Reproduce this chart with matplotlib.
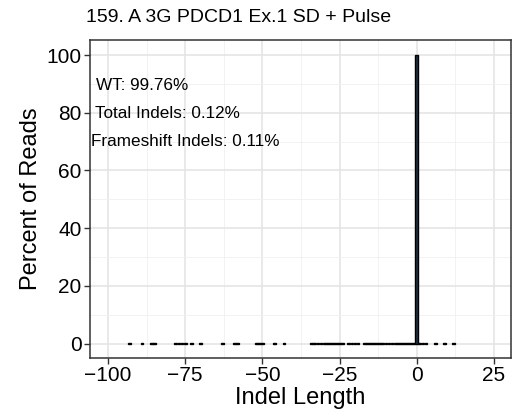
import matplotlib
matplotlib.use("Agg")
import matplotlib.pyplot as plt
from matplotlib.ticker import MultipleLocator

plt.rcParams['font.family'] = ['Liberation Sans', 'DejaVu Sans']

# Data
indel_lengths = [-93, -89, -86, -85, -78, -77, -76, -75, -73, -70, -63, -59, -58,
                 -52, -51, -50, -46, -43,
                 -34, -33, -32, -31, -30, -29, -28, -27, -26, -25, -24,
                 -22, -21, -20, -19, -17, -16, -15, -14, -13, -12, -11,
                 -10, -9, -8, -7, -6, -5, -4, -3, -2, -1, 0, 1, 2, 3, 6, 9, 12]
percent_reads = [0.05] * len(indel_lengths)
percent_reads[indel_lengths.index(0)] = 99.88

title = "159. A 3G PDCD1 Ex.1 SD + Pulse"
annotations = ["WT: 99.76%", "Total Indels: 0.12%", "Frameshift Indels: 0.11%"]
x_ticks = [-100, -75, -50, -25, 0, 25]
y_ticks = [0, 20, 40, 60, 80, 100]

fig = plt.figure(figsize=(5.19, 4.2), dpi=100)
ax = fig.add_axes([90/519, 1 - 358/420, (511 - 90)/519, (358 - 40)/420])

ax.bar(indel_lengths, percent_reads, width=0.9, color='#1f3045',
       edgecolor='black', linewidth=1.0, zorder=3)

ax.set_xlim(-105.8, 30.5)
ax.set_ylim(-5, 105.2)
ax.set_xticks(x_ticks)
ax.set_yticks(y_ticks)
ax.xaxis.set_minor_locator(MultipleLocator(12.5))
ax.yaxis.set_minor_locator(MultipleLocator(10))
ax.grid(True, which='major', color='#e3e3e3', linewidth=1.1, zorder=0)
ax.grid(True, which='minor', color='#f0f0f0', linewidth=0.6, zorder=0)
ax.set_axisbelow(True)
for s in ax.spines.values():
    s.set_color('#333333')
    s.set_linewidth(1.1)
ax.tick_params(axis='both', which='major', length=4, width=1, color='#333333',
               labelsize=15, labelcolor='black', pad=2)
ax.tick_params(axis='both', which='minor', length=0)

ax.set_xlabel("Indel Length", fontsize=17, labelpad=1)
ax.set_ylabel("Percent of Reads", fontsize=17, labelpad=3)

ann_x = [-104.0, -104.3, -105.5]
ann_y = [89.5, 79.8, 70.0]
for t, xx, yy in zip(annotations, ann_x, ann_y):
    ax.text(xx, yy, t, fontsize=12.3, ha='left', va='center', color='black', zorder=4)

fig.text(86/519, 1 - 18/420, title, fontsize=14, ha='left', va='center')

fig.savefig("out.png", dpi=100)
